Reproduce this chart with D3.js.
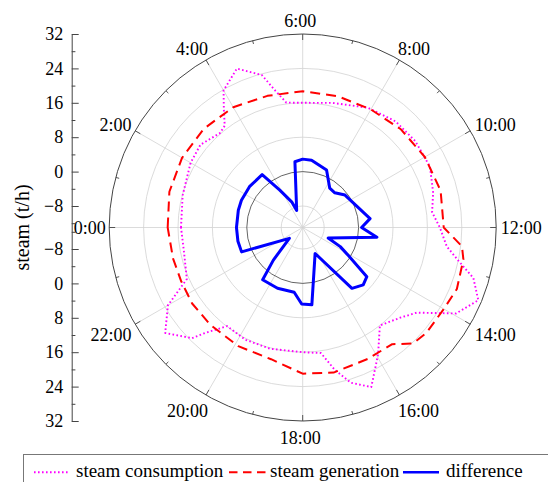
<!DOCTYPE html>
<meta charset="utf-8" />
<script src="https://d3js.org/d3.v7.min.js"></script>
<style>
	body { margin: 0; background: white; }
</style>
<div id="chart"></div>
<script>
	// values (hour of day, steam in t/h)
	const consumptionHours = [0, 1, 2, 2.6, 3.25, 3.5, 3.75, 4, 4.5, 5, 5.25, 5.5, 6, 6.9, 7.9, 8.75, 9.5, 10.3, 11, 11.55, 12, 12.5, 12.8, 13.1, 13.5, 13.95, 14.45, 14.85, 15.45, 15.95, 16.45, 16.85, 17.15, 17.45, 18, 19, 19.8, 20.5, 20.85, 21, 21.5, 22, 22.4, 23.2];
	const consumption = [15.3, 15.9, 17.1, 17.6, 16.2, 16.8, 20.0, 23.8, 27.0, 23.7, 19.4, 16.3, 16.0, 16.8, 18.7, 19.8, 20.0, 19.8, 18.4, 17.3, 18.9, 20.8, 24.0, 28.4, 31.2, 27.9, 20.1, 17.9, 16.0, 21.3, 27.4, 24.8, 21.0, 16.5, 16.0, 16.2, 16.3, 15.9, 20.4, 23.4, 27.3, 23.2, 16.5, 15.2];

	const generationHours = [0, 1, 2, 3, 4, 5, 6, 7, 8, 9, 10, 11, 12, 12.45, 12.75, 13.45, 14, 14.7, 15.1, 15.5, 16.25, 17.2, 18, 18.9, 19.9, 20.9, 21.7, 22.4, 23.1];
	const generation = [18.4, 19.1, 19.4, 19.5, 19.3, 18.7, 18.7, 18.6, 18.7, 19.3, 19.8, 20.2, 19.8, 24.3, 25.1, 25.6, 24.9, 24.8, 24.2, 21.2, 21.1, 21.5, 21.0, 18.5, 18.4, 18.2, 18.2, 17.9, 18.0];

	const differenceHours = [0, 1, 1.6, 2.5, 3.5, 3.9, 4.45, 4.7, 5.55, 6, 6.5, 7.5, 8.3, 8.85, 9.5, 11.5, 12, 12.5, 13.5, 13.8, 14.1, 14.5, 14.9, 15.4, 16.3, 17.55, 18.05, 18.5, 19.5, 20.5, 20.8, 21.4, 22.55, 23.2];
	const difference = [2.4, 2.5, 2.6, 2.6, 2.5, -2.8, -6.5, -8.8, 2.4, 2.9, 2.8, 1.5, -1.9, -2.0, -0.6, 2.8, 0.7, 4.4, -6.6, -3.2, -0.6, 5.8, 6.4, 5.2, -6.3, 5.1, 4.8, 2.2, 2.3, 2.3, -2.8, -9.0, 2.3, 2.4];

	const hourTicks = [0, 2, 4, 6, 8, 10, 12, 14, 16, 18, 20, 22];
	const minorHourTicks = [1, 3, 5, 7, 9, 11, 13, 15, 17, 19, 21, 23];
	const rings = [-8, 0, 8, 16, 24];
	const yTicks = [-8, 0, 8, 16, 24, 32];
	const yMinorTicks = [-12, -4, 4, 12, 20, 28];

	const series = [
		{ name: "steam consumption", hours: consumptionHours, values: consumption, color: "#ff00ff", width: 1.9, dash: "1.6 2.4" },
		{ name: "steam generation", hours: generationHours, values: generation, color: "#ff0000", width: 2, dash: "10 6" },
		{ name: "difference", hours: differenceHours, values: difference, color: "#0000ff", width: 3, dash: null }
	];

	const serif = "'Liberation Serif', serif";
	const width = 548, height = 482;
	const cx = 302.7, cy = 227.5, R = 193.5;

	const svg = d3.select("#chart").append("svg")
		.attr("width", width)
		.attr("height", height)
		.style("font-family", serif);

	// radial scale, the centre is -13
	const r = d3.scaleLinear().domain([-13, 32]).range([0, R]);
	// clockwise from the top, 6:00 at the top
	const angle = h => (h - 6) / 24 * 2 * Math.PI;

	const g = svg.append("g").attr("transform", "translate(" + cx + "," + cy + ")");

	// spokes
	g.selectAll(".spoke")
		.data(hourTicks)
		.enter()
		.append("line")
		.attr("x1", 0).attr("y1", 0)
		.attr("x2", d => R * Math.sin(angle(d)))
		.attr("y2", d => -R * Math.cos(angle(d)))
		.attr("stroke", "#d2d2d2")
		.attr("stroke-width", 0.8);

	// rings
	g.selectAll(".ring")
		.data(rings)
		.enter()
		.append("circle")
		.attr("r", d => r(d))
		.attr("fill", "none")
		.attr("stroke", d => d === 0 ? "#222" : "#d2d2d2")
		.attr("stroke-width", d => d === 0 ? 0.7 : 0.8);

	// outer circle
	g.append("circle")
		.attr("r", R)
		.attr("fill", "none")
		.attr("stroke", "#444")
		.attr("stroke-width", 1);

	// hour ticks on the outer circle
	const tickData = hourTicks.map(h => ({ h: h, len: 6 }))
		.concat(minorHourTicks.map(h => ({ h: h, len: 3.5 })));
	g.selectAll(".htick")
		.data(tickData)
		.enter()
		.append("line")
		.attr("x1", d => R * Math.sin(angle(d.h)))
		.attr("y1", d => -R * Math.cos(angle(d.h)))
		.attr("x2", d => (R - d.len) * Math.sin(angle(d.h)))
		.attr("y2", d => -(R - d.len) * Math.cos(angle(d.h)))
		.attr("stroke", "#444")
		.attr("stroke-width", 0.9);

	// hour labels
	g.selectAll(".hlabel")
		.data(hourTicks)
		.enter()
		.append("text")
		.style("font-family", serif)
		.style("font-size", "18px")
		.attr("dy", "0.35em")
		.each(function (d) {
			const a = angle(d);
			const px = R * Math.sin(a), py = -R * Math.cos(a);
			const c = Math.sin(a), s = Math.cos(a);
			let anchor = "middle", x = px - 2.5;
			if (c > 0.1) { anchor = "start"; x = px + (c > 0.7 ? 4.5 : -1.5); }
			if (c < -0.1) { anchor = "end"; x = px - (c < -0.7 ? 3.5 : -2); }
			const y = py - s * 13 + (s < -0.1 ? 4 : 0);
			d3.select(this).attr("text-anchor", anchor).attr("x", x).attr("y", y);
		})
		.text(d => d + ":00");

	// series
	const line = d3.lineRadial()
		.angle(d => angle(d[0]))
		.radius(d => r(d[1]))
		.curve(d3.curveLinearClosed);

	series.forEach(s => {
		g.append("path")
			.datum(s.hours.map((h, i) => [h, s.values[i]]))
			.attr("d", line)
			.attr("fill", "none")
			.attr("stroke", s.color)
			.attr("stroke-width", s.width)
			.attr("stroke-dasharray", s.dash)
			.attr("stroke-linejoin", "round");
	});

	// left radial axis, mirrored round the centre
	const axisX = 71.7;
	const yTop = d3.scaleLinear().domain([-13, 32]).range([cy, cy - R]);
	const yBottom = d3.scaleLinear().domain([-13, 32]).range([cy, cy + R]);

	[yTop, yBottom].forEach(sc => {
		svg.append("g")
			.attr("transform", "translate(" + axisX + ",0)")
			.call(d3.axisLeft(sc).tickValues(yMinorTicks).tickSizeInner(-3.7).tickSizeOuter(0).tickFormat(""))
			.call(a => a.select(".domain").remove())
			.selectAll("line").attr("stroke", "#444");
		const ax = svg.append("g")
			.attr("transform", "translate(" + axisX + ",0)")
			.call(d3.axisLeft(sc).tickValues(yTicks).tickSizeInner(-7).tickSizeOuter(0).tickPadding(8.5));
		ax.selectAll("line").attr("stroke", "#444");
		ax.select(".domain").attr("stroke", "#444");
		ax.selectAll("text")
			.style("font-size", "18px")
			.style("font-family", serif);
	});

	svg.append("text")
		.attr("transform", "translate(23," + cy + ") rotate(-90)")
		.attr("text-anchor", "middle")
		.attr("dy", "0.3em")
		.style("font-family", serif)
		.style("font-size", "20px")
		.text("steam (t/h)");

	// legend
	const legend = svg.append("g");
	legend.append("rect")
		.attr("x", 23.5).attr("y", 454.5)
		.attr("width", 600).attr("height", 60)
		.attr("fill", "white")
		.attr("stroke", "#777")
		.attr("stroke-width", 1);

	const legendX = [34, 229, 403];
	const items = legend.selectAll(".item")
		.data(series)
		.enter()
		.append("g")
		.attr("transform", (d, i) => "translate(" + legendX[i] + ",472.3)");
	items.append("line")
		.attr("x1", 0).attr("x2", d => d.dash === "10 6" ? 37 : 36)
		.attr("stroke", d => d.color)
		.attr("stroke-width", d => d.width === 3 ? 2.5 : d.width)
		.attr("stroke-dasharray", d => d.dash === "10 6" ? "8.5 5.5" : d.dash);
	items.append("text")
		.attr("x", (d, i) => [42, 41, 43][i])
		.attr("y", 5)
		.style("font-family", serif)
		.style("font-size", "19px")
		.text(d => d.name);
</script>
